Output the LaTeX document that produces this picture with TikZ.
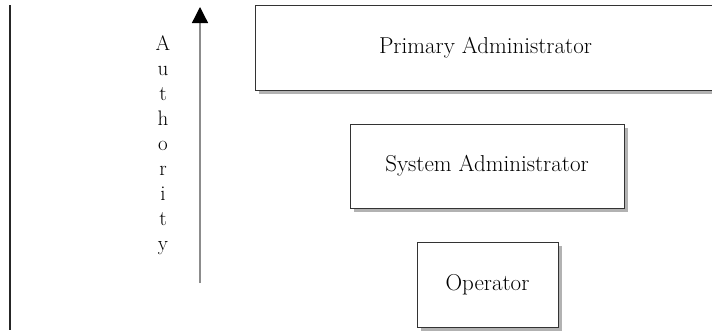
\documentclass[tikz,border=0pt]{standalone}
\usetikzlibrary{shadows,arrows.meta}
\begin{document}
\begin{tikzpicture}[x=1pt,y=-1pt,
  rolebox/.style={draw=black!80, line width=1pt, fill=white, inner sep=0pt,
    font=\fontsize{23}{27}\selectfont,
    drop shadow={shadow xshift=3.5pt, shadow yshift=-3.5pt, fill=black!30, opacity=1}},
  authlbl/.style={align=center, inner sep=0pt, font=\fontsize{21}{25}\selectfont}]
\clip (0,0) rectangle (712,332);
\useasboundingbox (0,0) rectangle (712,332);
\draw[line width=2pt, black!85] (10,5) -- (10,330);
\coordinate (abot) at (200,283);
\coordinate (atop) at (200,7);
\draw[black!45, line width=1.3pt, -{Triangle[length=16pt,width=16pt,color=black]}] (abot) -- (atop);
\node[authlbl] (auth) at (163,145) {A\\u\\t\\h\\o\\r\\i\\t\\y};
\node[rolebox, minimum width=461pt, minimum height=85pt] (pa) at (485.5,47.5) {Primary Administrator};
\node[rolebox, minimum width=274pt, minimum height=84pt] (sa) at (487,166) {System Administrator};
\node[rolebox, minimum width=141pt, minimum height=85pt] (op) at (487.5,284.5) {Operator};
\end{tikzpicture}
\end{document}
